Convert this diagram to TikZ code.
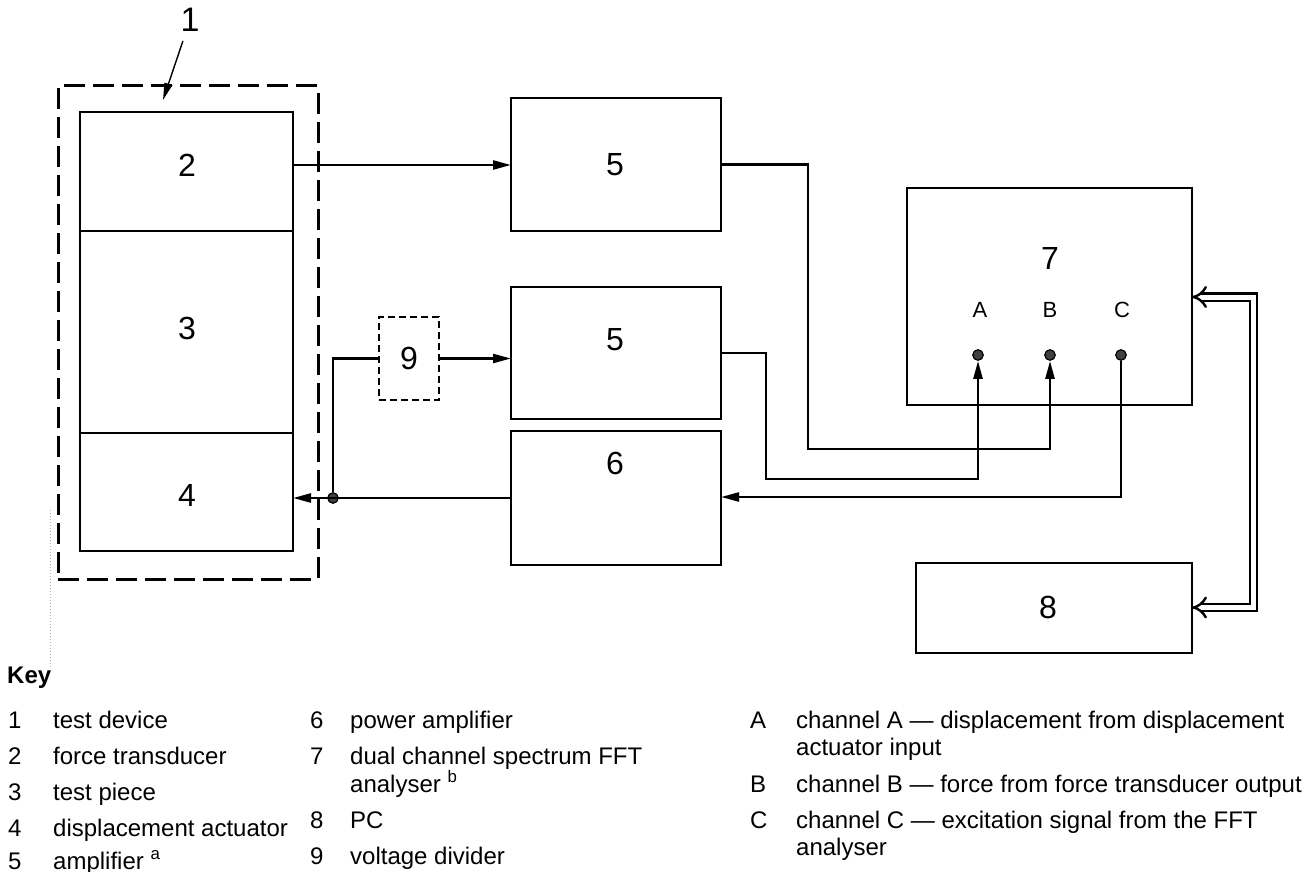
\documentclass[tikz,border=0pt]{standalone}
\usepackage{fontspec}
\setmainfont{Liberation Sans}
\usetikzlibrary{arrows.meta}
\begin{document}
\begin{tikzpicture}[x=1pt,y=-1pt,
  box/.style={draw, line width=1.8pt, inner sep=0pt, outer sep=0pt},
  wire/.style={line width=2.4pt},
  tip/.style={-{Triangle[length=18pt,width=9pt]}},
  big/.style={font=\fontsize{32}{36}\selectfont},
  mid/.style={font=\fontsize{22}{26}\selectfont},
  keyt/.style={font=\fontsize{24}{28}\selectfont, anchor=base west, inner sep=0pt},
  term/.style={circle, draw, fill=black!75, line width=1.2pt, minimum size=10.5pt, inner sep=0pt},
  dbl/.style={line width=2.4pt, double, double distance=5pt, {Implies[scale=1.7]}-{Implies[scale=1.7]}}
]
\useasboundingbox (0,0) rectangle (1312,872);

% test device
\node[draw, line width=3pt, dash pattern=on 21pt off 8pt, minimum width=260pt, minimum height=493pt, inner sep=0pt] (n1) at (188,332.5) {};
\node[box, minimum width=213pt, minimum height=119pt] (n2) at (186.5,171.5) {};
\node[box, minimum width=213pt, minimum height=202pt] (n3) at (186.5,332) {};
\node[box, minimum width=213pt, minimum height=118pt] (n4) at (186.5,492) {};
\node[big] (l2) at (187,165) {2};
\node[big] (l3) at (187,328) {3};
\node[big] (l4) at (187,495) {4};
\node[big, font=\fontsize{34}{38}\selectfont] (l1) at (190,20) {1};
\coordinate (p1) at (163,100);
\draw[line width=1.4pt, -{Triangle[length=17pt,width=8pt]}, shorten <=6pt] (l1) -- (p1);

% amplifiers etc
\node[box, minimum width=210pt, minimum height=133pt] (n5a) at (616,164.5) {};
\node[box, minimum width=210pt, minimum height=132pt] (n5b) at (616,353) {};
\node[box, minimum width=210pt, minimum height=134pt] (n6) at (616,498) {};
\node[box, minimum width=285pt, minimum height=217pt] (n7) at (1049.5,296.5) {};
\node[box, minimum width=276pt, minimum height=90pt] (n8) at (1054,608) {};
\node[draw, line width=1.6pt, dash pattern=on 7pt off 4pt, minimum width=60pt, minimum height=83pt, inner sep=0pt] (n9) at (409,358.5) {};
\node[big] (l5a) at (615,165) {5};
\node[big] (l5b) at (615,340) {5};
\node[big] (l6) at (615,463) {6};
\node[big] (l7) at (1050,258) {7};
\node[big] (l8) at (1048,607) {8};
\node[big] (l9) at (409,358.5) {9};
\node[mid] (lA) at (980,310) {A};
\node[mid] (lB) at (1050,310) {B};
\node[mid] (lC) at (1122,310) {C};

% terminals and junction
\node[term] (tA) at (978,355) {};
\node[term] (tB) at (1050,355) {};
\node[term] (tC) at (1121,355) {};
\node[term] (jn) at (333,498) {};

% connectors
\draw[wire, tip] (n2.east |- 0,165) -- (n5a.west |- 0,165);
\draw[wire, tip] (n5a.east) -- (808,164.5) -- (808,449) -- (tB |- 0,449) -- (tB);
\draw[wire, tip] (n5b.east) -- (766,353) -- (766,479) -- (tA |- 0,479) -- (tA);
\draw[wire, tip] (tC) -- (tC |- 0,497) -- (n6.east |- 0,497);
\draw[wire, tip] (n6.west) -- (n4.east |- n6.west);
\draw[wire] (jn) |- (n9.west);
\draw[wire, tip] (n9.east) -- (n9.east -| n5b.west);
\draw[dbl] (n7.east |- 0,297) -- (1253.5,297) -- (1253.5,607.5) -- (n8.east |- 0,607.5);

% dotted artefact
\draw[gray!60, line width=1pt, dotted] (50,510) -- (50,667);

% key
\node[keyt, font=\bfseries\fontsize{24}{28}\selectfont] (key) at (7,683) {Key};
\node[keyt] (k1n) at (8,728) {1};
\node[keyt] (k1t) at (53,728) {test device};
\node[keyt] (k2n) at (8,764) {2};
\node[keyt] (k2t) at (53,764) {force transducer};
\node[keyt] (k3n) at (8,800) {3};
\node[keyt] (k3t) at (53,800) {test piece};
\node[keyt] (k4n) at (8,836) {4};
\node[keyt] (k4t) at (53,836) {displacement actuator};
\node[keyt] (k5n) at (8,869) {5};
\node[keyt] (k5t) at (53,869) {amplifier \textsuperscript{a}};

\node[keyt] (k6n) at (310,728) {6};
\node[keyt] (k6t) at (350,728) {power amplifier};
\node[keyt] (k7n) at (310,764) {7};
\node[keyt] (k7t) at (350,764) {dual channel spectrum FFT};
\node[keyt] (k7u) at (350,792) {analyser \textsuperscript{b}};
\node[keyt] (k8n) at (310,828) {8};
\node[keyt] (k8t) at (350,828) {PC};
\node[keyt] (k9n) at (310,864) {9};
\node[keyt] (k9t) at (350,864) {voltage divider};

\node[keyt] (kAn) at (750,728) {A};
\node[keyt] (kAt) at (796,728) {channel A — displacement from displacement};
\node[keyt] (kAu) at (796,755) {actuator input};
\node[keyt] (kBn) at (750,792) {B};
\node[keyt] (kBt) at (796,792) {channel B — force from force transducer output};
\node[keyt] (kCn) at (750,828) {C};
\node[keyt] (kCt) at (796,828) {channel C — excitation signal from the FFT};
\node[keyt] (kCu) at (796,855) {analyser};
\end{tikzpicture}
\end{document}
